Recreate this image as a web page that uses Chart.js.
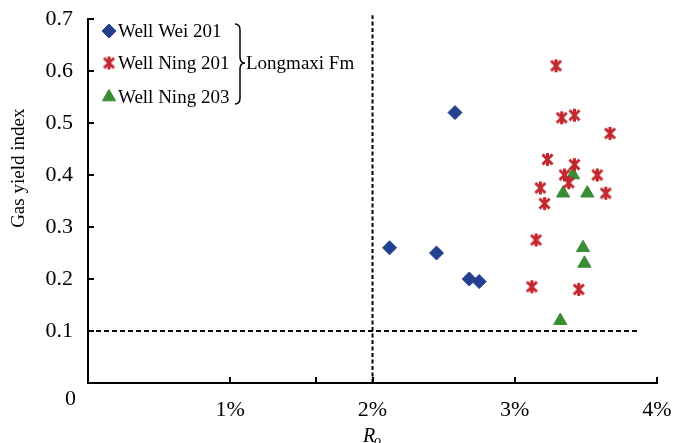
<!DOCTYPE html>
<html>
<head>
<meta charset="utf-8">
<script src="https://cdn.jsdelivr.net/npm/chart.js@4/dist/chart.umd.min.js"></script>
<style>
  html, body { margin: 0; padding: 0; background: #ffffff; }
  canvas { display: block; }
</style>
</head>
<body>
<canvas id="chart" width="675" height="443"></canvas>
<script>
// Vitrinite reflectance (Ro, %) and gas yield index, Longmaxi Fm
const seriesNames = ['Well Wei 201', 'Well Ning 201', 'Well Ning 203'];
const formationName = 'Longmaxi Fm';

const wei201Ro  = [2.12, 2.45, 2.58, 2.68, 2.75];
const wei201Gas = [0.26, 0.25, 0.52, 0.20, 0.195];

const ning201Ro  = [3.29, 3.33, 3.42, 3.67, 3.23, 3.42, 3.35, 3.58, 3.38, 3.18, 3.64, 3.21, 3.15, 3.12, 3.45];
const ning201Gas = [0.61, 0.51, 0.515, 0.48, 0.43, 0.42, 0.40, 0.40, 0.385, 0.375, 0.365, 0.345, 0.275, 0.185, 0.18];

const ning203Ro  = [3.41, 3.34, 3.51, 3.48, 3.49, 3.32];
const ning203Gas = [0.40, 0.365, 0.365, 0.26, 0.23, 0.12];

// Reference lines: Ro = 2% and gas yield index = 0.1
const roCutoff = 2;
const roLineGas = [0, 0.707];
const gasCutoff = 0.1;
const gasLineRo = [0, 3.87];

// Axis ranges and tick marks
const xMin = 0, xMax = 4, xStep = 1;
const yMin = 0, yMax = 0.7, yStep = 0.1;
const xTickMarks = [1, 1.6, 2, 3, 4];

const colors = ['#24418f', '#c3262c', '#3a8c35'];
const serif = "'Liberation Serif', 'Times New Roman', serif";

function toPoints(xs, ys) { return xs.map((x, i) => ({ x: x, y: ys[i] })); }

// Asterisk marker (vertical bar plus two diagonals)
function makeAsterisk(color) {
  const c = document.createElement('canvas');
  c.width = 15; c.height = 15;
  const g = c.getContext('2d');
  g.strokeStyle = color;
  g.lineWidth = 3;
  g.beginPath();
  g.moveTo(7.5, 1); g.lineTo(7.5, 14);
  g.moveTo(2.5, 2.5); g.lineTo(12.5, 12.5);
  g.moveTo(12.5, 2.5); g.lineTo(2.5, 12.5);
  g.stroke();
  return c;
}
const asterisk = makeAsterisk(colors[1]);

const markerStyles = [
  { pointStyle: 'rectRot', radius: 7, backgroundColor: colors[0], borderColor: colors[0], borderWidth: 1 },
  { pointStyle: asterisk, radius: 7, backgroundColor: colors[1], borderColor: colors[1], borderWidth: 0 },
  { pointStyle: 'triangle', radius: 7.6, backgroundColor: colors[2], borderColor: colors[2], borderWidth: 1 }
];

const datasets = [
  { label: seriesNames[0], data: toPoints(wei201Ro, wei201Gas) },
  { label: seriesNames[1], data: toPoints(ning201Ro, ning201Gas) },
  { label: seriesNames[2], data: toPoints(ning203Ro, ning203Gas) }
].map((d, i) => Object.assign(d, {
  showLine: false,
  pointStyle: markerStyles[i].pointStyle,
  pointRadius: markerStyles[i].radius,
  pointHoverRadius: markerStyles[i].radius,
  pointBackgroundColor: markerStyles[i].backgroundColor,
  pointBorderColor: markerStyles[i].borderColor,
  pointBorderWidth: markerStyles[i].borderWidth
}));

datasets.push({
  label: 'Ro cutoff',
  data: roLineGas.map(y => ({ x: roCutoff, y: y })),
  showLine: true, pointRadius: 0, borderColor: '#000', borderWidth: 2,
  borderDash: [4, 2.5], clip: false
});
datasets.push({
  label: 'Gas cutoff',
  data: gasLineRo.map(x => ({ x: x, y: gasCutoff })),
  showLine: true, pointRadius: 0, borderColor: '#000', borderWidth: 2,
  borderDash: [5, 3], clip: false
});

// Inward tick marks, axis titles, relocated zero label and the legend block
const decorations = {
  id: 'decorations',
  afterDraw(chart) {
    const ctx = chart.ctx;
    const xs = chart.scales.x, ys = chart.scales.y;
    const area = chart.chartArea;
    ctx.save();

    // tick marks pointing into the plot
    ctx.strokeStyle = '#000';
    ctx.lineWidth = 2;
    ctx.beginPath();
    for (let v = yStep; v <= yMax + 1e-9; v += yStep) {
      const py = Math.round(ys.getPixelForValue(v));
      ctx.moveTo(area.left, py); ctx.lineTo(area.left + 6, py);
    }
    xTickMarks.forEach(v => {
      const px = Math.round(xs.getPixelForValue(v));
      ctx.moveTo(px, area.bottom); ctx.lineTo(px, area.bottom - 6);
    });
    ctx.stroke();

    // zero label of the vertical axis, set below the corner
    ctx.fillStyle = '#000';
    ctx.font = '22px ' + serif;
    ctx.textAlign = 'right';
    ctx.textBaseline = 'middle';
    ctx.fillText('0', area.left - 12, ys.getPixelForValue(0) + 16);

    // vertical axis title
    ctx.save();
    ctx.translate(19, area.top + (area.bottom - area.top) * 0.41);
    ctx.rotate(-Math.PI / 2);
    ctx.textAlign = 'center';
    ctx.textBaseline = 'middle';
    ctx.font = '19px ' + serif;
    ctx.fillText('Gas yield index', 0, 0);
    ctx.restore();

    // horizontal axis title: R with subscript o
    const cx = (area.left + area.right) / 2;
    ctx.textAlign = 'left';
    ctx.textBaseline = 'alphabetic';
    ctx.font = 'italic 20px ' + serif;
    const rW = ctx.measureText('R').width;
    ctx.font = 'italic 14px ' + serif;
    const oW = ctx.measureText('o').width;
    const startX = cx - (rW + oW) / 2;
    ctx.font = 'italic 20px ' + serif;
    ctx.fillText('R', startX, 442);
    ctx.font = 'italic 14px ' + serif;
    ctx.fillText('o', startX + rW - 1, 445);

    // legend rows
    const rowsY = [31, 63, 97];
    const markX = 109;
    ctx.font = '19px ' + serif;
    ctx.textBaseline = 'middle';
    ctx.textAlign = 'left';
    seriesNames.forEach((name, i) => {
      const m = markerStyles[i];
      ctx.fillStyle = m.backgroundColor;
      ctx.strokeStyle = m.borderColor;
      ctx.lineWidth = m.borderWidth;
      Chart.helpers.drawPoint(ctx, {
        pointStyle: m.pointStyle, radius: m.radius, rotation: 0,
        borderWidth: m.borderWidth
      }, markX, rowsY[i]);
      ctx.fillStyle = '#000';
      ctx.fillText(name, markX + 9, rowsY[i] + 1);
    });

    // brace grouping the three wells
    const bx = 235, top = 24, bottom = 104, mid = 63;
    ctx.strokeStyle = '#000';
    ctx.lineWidth = 1.5;
    ctx.beginPath();
    ctx.moveTo(bx, top);
    ctx.quadraticCurveTo(bx + 5, top, bx + 5, top + 6);
    ctx.lineTo(bx + 5, mid - 6);
    ctx.quadraticCurveTo(bx + 5, mid, bx + 10, mid);
    ctx.quadraticCurveTo(bx + 5, mid, bx + 5, mid + 6);
    ctx.lineTo(bx + 5, bottom - 6);
    ctx.quadraticCurveTo(bx + 5, bottom, bx, bottom);
    ctx.stroke();
    ctx.fillText(formationName, bx + 11, mid + 1);

    ctx.restore();
  }
};

new Chart(document.getElementById('chart'), {
  type: 'scatter',
  data: { datasets: datasets },
  options: {
    responsive: false,
    animation: false,
    devicePixelRatio: 1,
    layout: { padding: { top: 19, right: 18, bottom: 0, left: 0 } },
    plugins: { legend: { display: false }, tooltip: { enabled: false } },
    scales: {
      x: {
        type: 'linear', min: xMin, max: xMax,
        afterFit(scale) { scale.height = 60; scale.paddingLeft = 0; scale.paddingRight = 0; },
        grid: { display: false, drawTicks: false },
        border: { display: true, color: '#000', width: 2 },
        ticks: {
          stepSize: xStep, padding: 14, color: '#000',
          font: { family: serif, size: 22 },
          callback: v => (v === 0 ? '' : v + '%')
        }
      },
      y: {
        type: 'linear', min: yMin, max: yMax,
        afterFit(scale) { scale.width = 88; scale.paddingTop = 0; scale.paddingBottom = 0; },
        grid: { display: false, drawTicks: false },
        border: { display: true, color: '#000', width: 2 },
        ticks: {
          stepSize: yStep, padding: 15, color: '#000',
          font: { family: serif, size: 22 },
          callback: v => (Math.abs(v) < 1e-9 ? '' : v.toFixed(1))
        }
      }
    }
  },
  plugins: [decorations]
});
</script>
</body>
</html>
